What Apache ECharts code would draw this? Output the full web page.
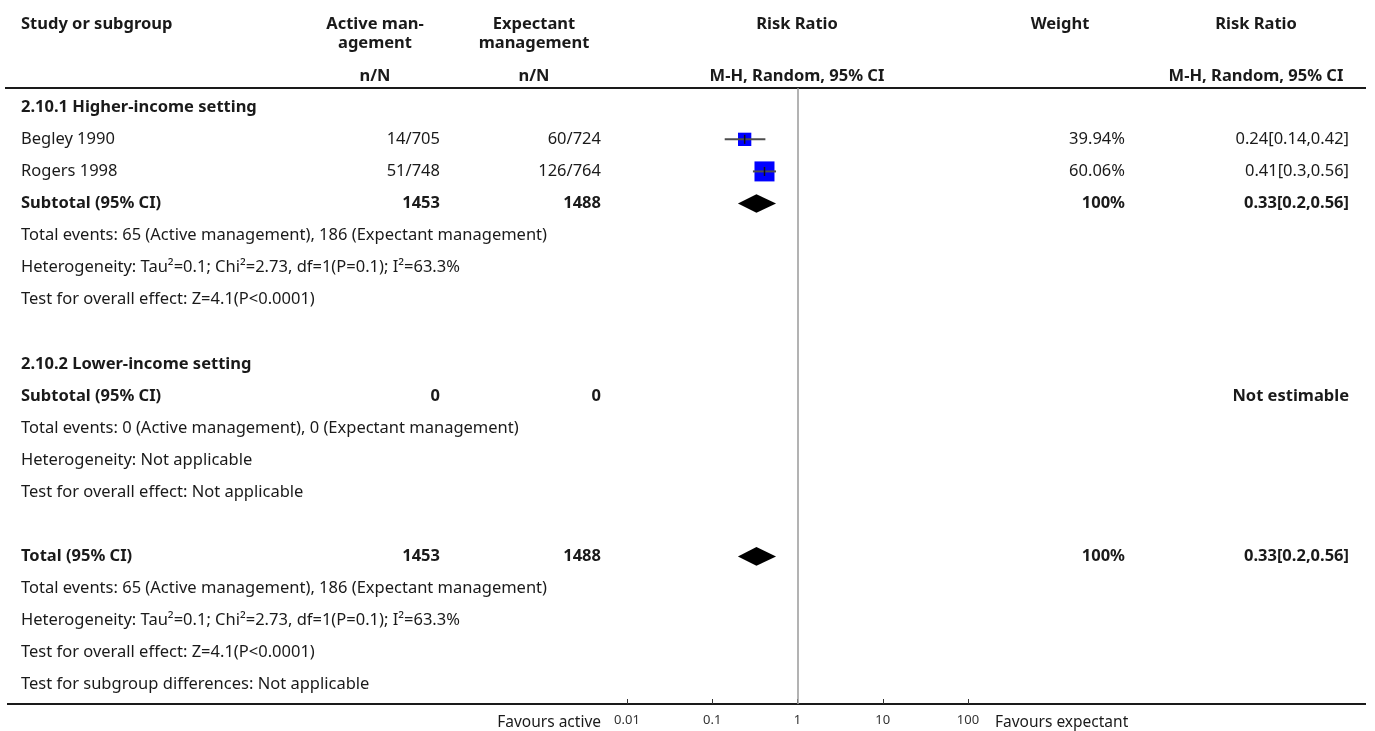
<!DOCTYPE html>
<html>
<head>
<meta charset="utf-8">
<script src="https://cdn.jsdelivr.net/npm/echarts@6/dist/echarts.min.js"></script>
<style>
  html, body { margin: 0; padding: 0; background: #fff; }
  #chart { width: 1375px; height: 731px; }
</style>
</head>
<body>
<div id="chart"></div>
<script>
// ---- Table rows (one entry per row of the forest plot) ----
const rowLabels = [
  '2.10.1 Higher-income setting',
  'Begley 1990',
  'Rogers 1998',
  'Subtotal (95% CI)',
  'Total events: 65 (Active management), 186 (Expectant management)',
  'Heterogeneity: Tau\u00b2=0.1; Chi\u00b2=2.73, df=1(P=0.1); I\u00b2=63.3%',
  'Test for overall effect: Z=4.1(P<0.0001)',
  '',
  '2.10.2 Lower-income setting',
  'Subtotal (95% CI)',
  'Total events: 0 (Active management), 0 (Expectant management)',
  'Heterogeneity: Not applicable',
  'Test for overall effect: Not applicable',
  '',
  'Total (95% CI)',
  'Total events: 65 (Active management), 186 (Expectant management)',
  'Heterogeneity: Tau\u00b2=0.1; Chi\u00b2=2.73, df=1(P=0.1); I\u00b2=63.3%',
  'Test for overall effect: Z=4.1(P<0.0001)',
  'Test for subgroup differences: Not applicable'
];
const boldRows = [0, 3, 8, 9, 14];

const activeCol    = ['', '14/705', '51/748', '1453', '', '', '', '', '', '0', '', '', '', '', '1453', '', '', '', ''];
const expectantCol = ['', '60/724', '126/764', '1488', '', '', '', '', '', '0', '', '', '', '', '1488', '', '', '', ''];
const weightCol    = ['', '39.94%', '60.06%', '100%', '', '', '', '', '', '', '', '', '', '', '100%', '', '', '', ''];
const riskRatioCol = ['', '0.24[0.14,0.42]', '0.41[0.3,0.56]', '0.33[0.2,0.56]', '', '', '', '', '', 'Not estimable', '', '', '', '', '0.33[0.2,0.56]', '', '', '', ''];

// ---- Individual studies ----
const studyRows    = [1, 2];
const studyRR      = [0.24, 0.41];
const studyLower   = [0.14, 0.3];
const studyUpper   = [0.42, 0.56];
const studyWeights = [39.94, 60.06];

// ---- Pooled estimates (diamonds) ----
const pooledRows  = [3, 14];
const pooledRR    = [0.33, 0.33];
const pooledLower = [0.2, 0.2];
const pooledUpper = [0.56, 0.56];

// ---- Axis ----
const axisTickLabels = ['0.01', '0.1', '1', '10', '100'];
const leftFavours  = 'Favours active';
const rightFavours = 'Favours expectant';

// ---- Styling ----
const FONT = '"Noto Sans", sans-serif';
const TEXT_COLOR = '#1a1a1a';
const BODY_SIZE = 16.5;
const BOX_PX_PER_PCT = 20 / 60.06;

const chart = echarts.init(document.getElementById('chart'), null, { renderer: 'canvas' });

const studyData = studyRows.map((r, i) => [r, studyRR[i], studyLower[i], studyUpper[i], studyWeights[i]]);
const pooledData = pooledRows.map((r, i) => [r, pooledRR[i], pooledLower[i], pooledUpper[i]]);

chart.setOption({
  animation: false,
  backgroundColor: '#fff',
  grid: { left: 627, right: 407, top: 88, bottom: 27, containLabel: false },
  xAxis: {
    type: 'log', logBase: 10, min: 0.01, max: 100, position: 'bottom',
    axisLine: { show: false, onZero: false },
    axisTick: { show: true, inside: true, length: 5, lineStyle: { color: '#333', width: 1 } },
    splitLine: { show: false },
    axisLabel: {
      margin: 10, color: '#333', fontFamily: FONT, fontSize: 13,
      formatter: v => axisTickLabels[Math.round(Math.log10(v)) + 2]
    }
  },
  yAxis: {
    type: 'value', inverse: true, min: -0.6, max: 18.6,
    show: false
  },
  series: [
    {
      type: 'custom',
      name: 'studies',
      encode: { x: [1, 2, 3], y: 0 },
      data: studyData,
      z: 3,
      renderItem: (params, api) => {
        const y = api.value(0);
        const pE = api.coord([api.value(1), y]);
        const pL = api.coord([api.value(2), y]);
        const pH = api.coord([api.value(3), y]);
        const side = api.value(4) * BOX_PX_PER_PCT;
        return {
          type: 'group',
          children: [
            { type: 'rect', shape: { x: pE[0] - side / 2, y: pE[1] - side / 2, width: side, height: side }, style: { fill: '#0000ff' } },
            { type: 'line', shape: { x1: pL[0], y1: pL[1], x2: pH[0], y2: pH[1] }, style: { stroke: '#4d4d4d', lineWidth: 2 } },
            { type: 'line', shape: { x1: pE[0], y1: pE[1] - 4.5, x2: pE[0], y2: pE[1] + 4.5 }, style: { stroke: '#111', lineWidth: 1.5 } }
          ]
        };
      },
      markLine: {
        silent: true, symbol: 'none', label: { show: false },
        lineStyle: { color: '#9a9a9a', width: 1.5, type: 'solid' },
        data: [{ xAxis: 1 }]
      }
    },
    {
      type: 'custom',
      name: 'pooled',
      encode: { x: [1, 2, 3], y: 0 },
      data: pooledData,
      z: 3,
      renderItem: (params, api) => {
        const y = api.value(0);
        const pE = api.coord([api.value(1), y]);
        const pL = api.coord([api.value(2), y]);
        const pH = api.coord([api.value(3), y]);
        const h = 9.3;
        return {
          type: 'polygon',
          shape: { points: [[pL[0], pL[1]], [pE[0], pE[1] - h], [pH[0], pH[1]], [pE[0], pE[1] + h]] },
          style: { fill: '#000' }
        };
      }
    }
  ]
});

// ---- Table text, placed on the same row scale as the plot ----
function rowY(i) { return chart.convertToPixel({ yAxisIndex: 0 }, i); }

function txt(text, x, y, align, bold, size) {
  return {
    type: 'text', silent: true,
    style: {
      text: text, x: x, y: y, textAlign: align, textVerticalAlign: 'middle',
      fill: TEXT_COLOR, fontFamily: FONT, fontSize: size || BODY_SIZE,
      fontWeight: bold ? 'bold' : 'normal'
    }
  };
}

const COL = { label: 21, active: 440, expectant: 601, weight: 1125, rr: 1349 };
const HEAD = { active: 375, expectant: 534, plot: 797, weight: 1060, rr: 1256 };

const gfx = [];
// header
gfx.push(txt('Study or subgroup', COL.label, 24, 'left', true));
gfx.push(txt('Active man-', HEAD.active, 24, 'center', true));
gfx.push(txt('agement', HEAD.active, 43, 'center', true));
gfx.push(txt('Expectant', HEAD.expectant, 24, 'center', true));
gfx.push(txt('management', HEAD.expectant, 43, 'center', true));
gfx.push(txt('Risk Ratio', HEAD.plot, 24, 'center', true));
gfx.push(txt('Weight', HEAD.weight, 24, 'center', true));
gfx.push(txt('Risk Ratio', HEAD.rr, 24, 'center', true));
gfx.push(txt('n/N', HEAD.active, 76, 'center', true));
gfx.push(txt('n/N', HEAD.expectant, 76, 'center', true));
gfx.push(txt('M-H, Random, 95% CI', HEAD.plot, 76, 'center', true));
gfx.push(txt('M-H, Random, 95% CI', HEAD.rr, 76, 'center', true));

// rule lines
const topY = 88, baseY = 704;
gfx.push({ type: 'line', silent: true, shape: { x1: 5, y1: topY, x2: 1366, y2: topY }, style: { stroke: '#1a1a1a', lineWidth: 2 } });
gfx.push({ type: 'line', silent: true, shape: { x1: 7, y1: baseY, x2: 1366, y2: baseY }, style: { stroke: '#1a1a1a', lineWidth: 2 } });

// body rows
rowLabels.forEach((label, i) => {
  const y = rowY(i);
  const b = boldRows.indexOf(i) >= 0;
  if (label) gfx.push(txt(label, COL.label, y, 'left', b));
  if (activeCol[i]) gfx.push(txt(activeCol[i], COL.active, y, 'right', b));
  if (expectantCol[i]) gfx.push(txt(expectantCol[i], COL.expectant, y, 'right', b));
  if (weightCol[i]) gfx.push(txt(weightCol[i], COL.weight, y, 'right', b));
  if (riskRatioCol[i]) gfx.push(txt(riskRatioCol[i], COL.rr, y, 'right', b));
});

// favours labels beside the axis
gfx.push(txt(leftFavours, 601, 723, 'right', false, 15.5));
gfx.push(txt(rightFavours, 995, 723, 'left', false, 15.5));

chart.setOption({ graphic: gfx });
</script>
</body>
</html>
